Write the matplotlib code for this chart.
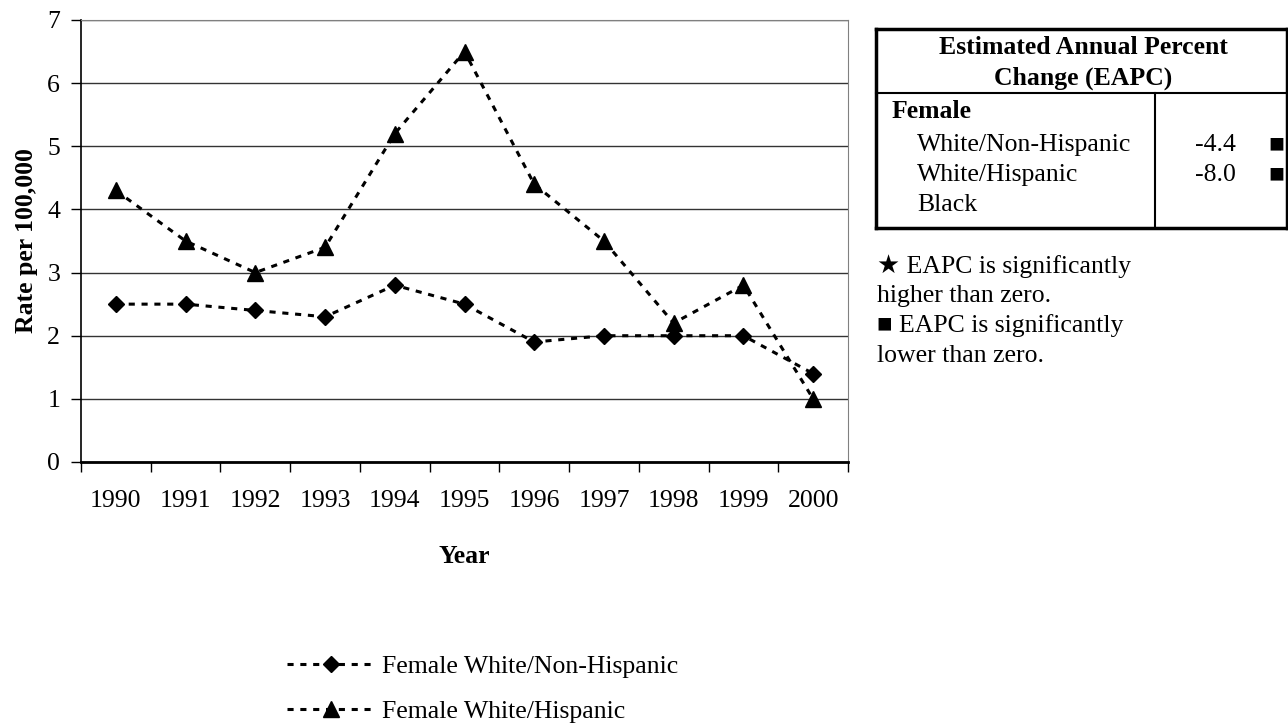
import matplotlib.pyplot as plt
import numpy as np
from matplotlib.lines import Line2D

plt.rcParams['font.family'] = ['Liberation Serif', 'DejaVu Sans']

years = ['1990', '1991', '1992', '1993', '1994', '1995', '1996', '1997', '1998', '1999', '2000']
non_hispanic = [2.5, 2.5, 2.4, 2.3, 2.8, 2.5, 1.9, 2.0, 2.0, 2.0, 1.4]
hispanic = [4.3, 3.5, 3.0, 3.4, 5.2, 6.5, 4.4, 3.5, 2.2, 2.8, 1.0]

table_rows = ['White/Non-Hispanic', 'White/Hispanic', 'Black']
table_vals = ['-4.4', '-8.0', '']
table_sig = ['\u25A0', '\u25A0', '']

FS = 18.5

fig = plt.figure(figsize=(12.88, 7.23), dpi=100)
ax = fig.add_axes([81/1288, 1-462/723, (848-81)/1288, (462-20)/723])

x = np.arange(len(years))
l1, = ax.plot(x, non_hispanic, color='black', lw=2.2, linestyle=(0, (2, 2.2)),
              marker='D', markersize=8, label='Female White/Non-Hispanic')
l2, = ax.plot(x, hispanic, color='black', lw=2.2, linestyle=(0, (2, 2.2)),
              marker='^', markersize=11, label='Female White/Hispanic')

ax.set_xlim(-0.5, len(years) - 0.5)
ax.set_ylim(0, 7)
ax.set_yticks(range(0, 8))
ax.set_xticks(x)
ax.set_xticklabels(years)
ax.tick_params(axis='x', which='major', length=0, pad=20, labelsize=FS)
ax.set_xticks(np.arange(-0.5, len(years), 1), minor=True)
ax.tick_params(axis='x', which='minor', length=7, width=1, direction='out')
ax.tick_params(axis='y', length=7, width=1, direction='out', labelsize=FS, pad=8)
ax.yaxis.grid(True, color='#333333', lw=1)
ax.set_axisbelow(True)
for s in ['top', 'right']:
    ax.spines[s].set_color('#808080')
ax.spines['left'].set_linewidth(1.2)
ax.spines['bottom'].set_linewidth(2)

ax.set_xlabel('Year', fontsize=FS, fontweight='bold', labelpad=24)
ax.set_ylabel('Rate per 100,000', fontsize=FS, fontweight='bold', labelpad=7)

fig.legend(handles=[l1, l2], loc='upper left', bbox_to_anchor=(287/1288, 1-655/723),
           frameon=False, fontsize=FS, labelspacing=0.85, handlelength=3.4,
           handletextpad=0.3, borderpad=0, borderaxespad=0)

# EAPC table drawn in pixel coordinates
tx = fig.add_axes([0, 0, 1, 1])
tx.set_xlim(0, 1288)
tx.set_ylim(723, 0)
tx.axis('off')
lw = 2.5
tx.add_line(Line2D([876, 1288], [29, 29], color='black', lw=lw))
tx.add_line(Line2D([876, 1288], [228, 228], color='black', lw=lw))
tx.add_line(Line2D([876, 876], [29, 228], color='black', lw=lw))
tx.add_line(Line2D([1287, 1287], [29, 228], color='black', lw=lw))
tx.add_line(Line2D([876, 1288], [93, 93], color='black', lw=1.5))
tx.add_line(Line2D([1155, 1155], [93, 228], color='black', lw=1.5))
tx.text(1083, 48, 'Estimated Annual Percent', ha='center', va='center',
        fontsize=FS, fontweight='bold')
tx.text(1083, 78, 'Change (EAPC)', ha='center', va='center',
        fontsize=FS, fontweight='bold')
tx.text(892, 111, 'Female', ha='left', va='center', fontsize=FS, fontweight='bold')
for i, name in enumerate(table_rows):
    yy = 145 + i * 30
    tx.text(917, yy, name, ha='left', va='center', fontsize=FS)
    tx.text(1236, yy, table_vals[i], ha='right', va='center', fontsize=FS)
    tx.text(1276, yy, table_sig[i], ha='center', va='center', fontsize=19)

notes = ['\u2605 EAPC is significantly', 'higher than zero.',
         '\u25A0 EAPC is significantly', 'lower than zero.']
for i, t in enumerate(notes):
    tx.text(877, 266 + i * 30, t, ha='left', va='center', fontsize=FS)

fig.savefig('out.png', dpi=100)
